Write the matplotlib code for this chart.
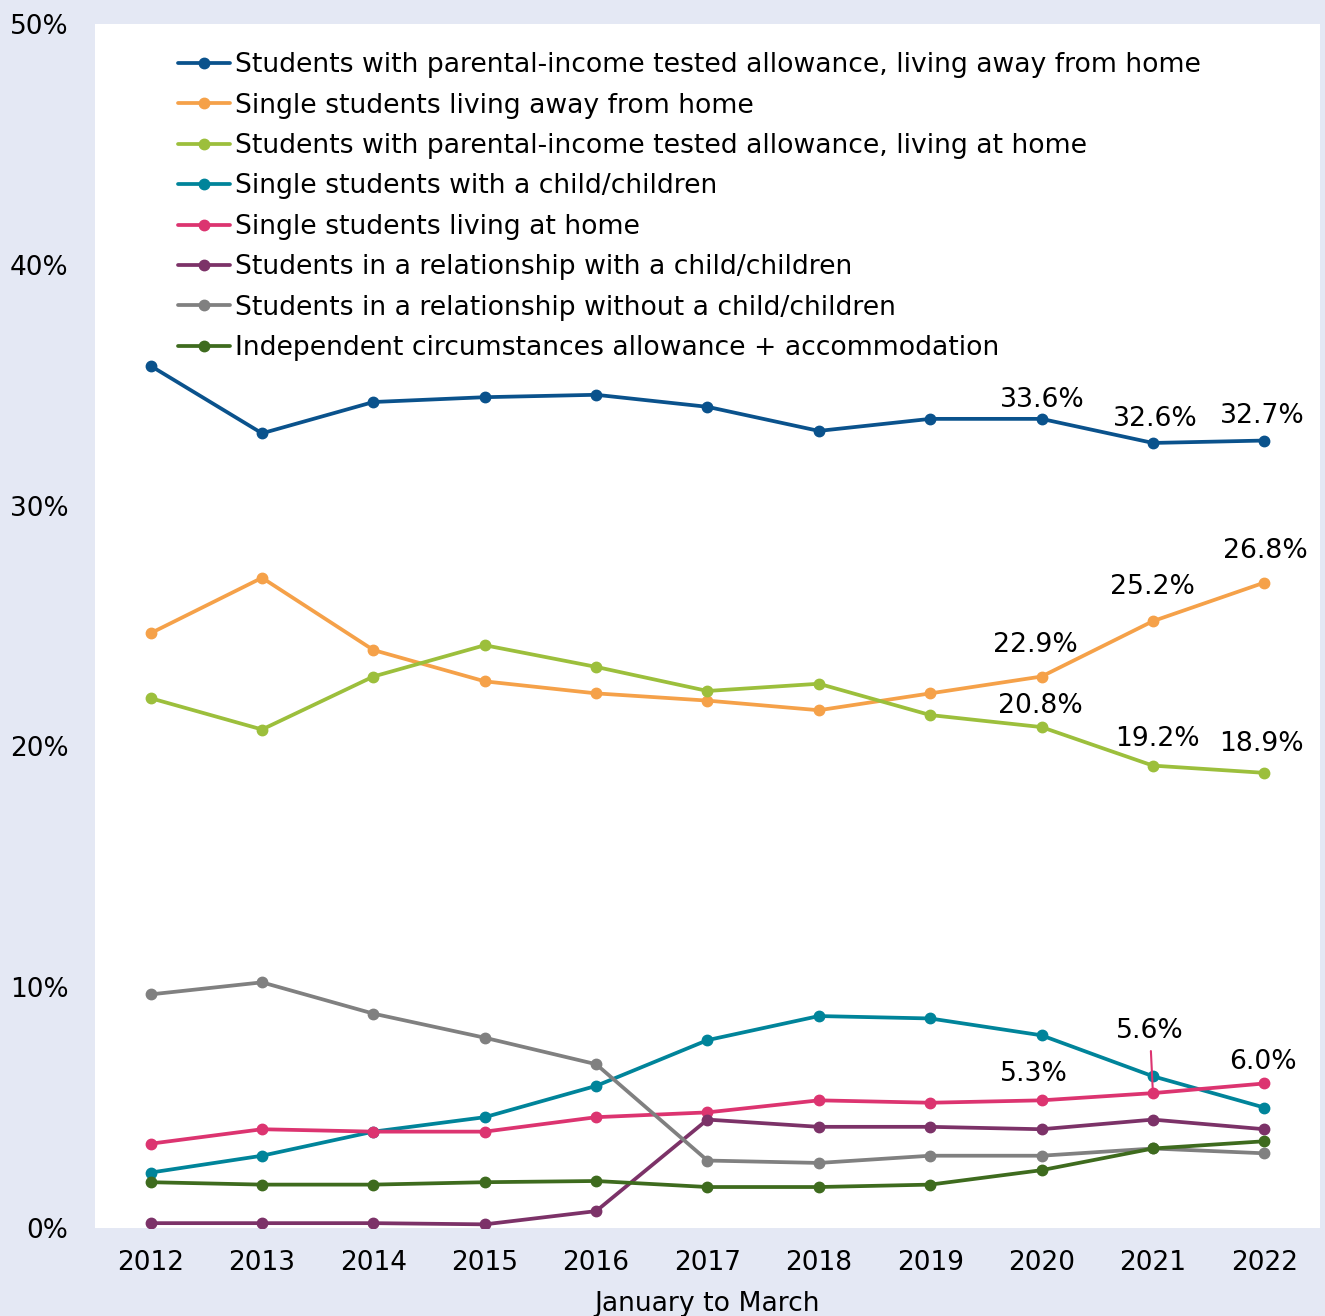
import matplotlib.pyplot as plt

years = [2012, 2013, 2014, 2015, 2016, 2017, 2018, 2019, 2020, 2021, 2022]

away_parental = [35.8, 33.0, 34.3, 34.5, 34.6, 34.1, 33.1, 33.6, 33.6, 32.6, 32.7]
single_away = [24.7, 27.0, 24.0, 22.7, 22.2, 21.9, 21.5, 22.2, 22.9, 25.2, 26.8]
home_parental = [22.0, 20.7, 22.9, 24.2, 23.3, 22.3, 22.6, 21.3, 20.8, 19.2, 18.9]
single_child = [2.3, 3.0, 4.0, 4.6, 5.9, 7.8, 8.8, 8.7, 8.0, 6.3, 5.0]
single_home = [3.5, 4.1, 4.0, 4.0, 4.6, 4.8, 5.3, 5.2, 5.3, 5.6, 6.0]
rel_child = [0.2, 0.2, 0.2, 0.15, 0.7, 4.5, 4.2, 4.2, 4.1, 4.5, 4.1]
rel_no_child = [9.7, 10.2, 8.9, 7.9, 6.8, 2.8, 2.7, 3.0, 3.0, 3.3, 3.1]
independent = [1.9, 1.8, 1.8, 1.9, 1.95, 1.7, 1.7, 1.8, 2.4, 3.3, 3.6]

labels = [
    "Students with parental-income tested allowance, living away from home",
    "Single students living away from home",
    "Students with parental-income tested allowance, living at home",
    "Single students with a child/children",
    "Single students living at home",
    "Students in a relationship with a child/children",
    "Students in a relationship without a child/children",
    "Independent circumstances allowance + accommodation",
]
series = [away_parental, single_away, home_parental, single_child,
          single_home, rel_child, rel_no_child, independent]
colors = ["#0A528C", "#F5A149", "#9CBF3C", "#00849A",
          "#DC3470", "#7C3268", "#808080", "#3E6B1E"]

# which points get a value label, and the pixel offset of the label
annotated = {
    0: [(2020, 1, 19), (2021, 2, 24), (2022, -2, 25)],
    1: [(2020, -6, 32), (2021, 0, 34), (2022, 1, 32)],
    2: [(2020, -1, 21), (2021, 5, 27), (2022, -3, 29)],
    4: [(2020, -8, 26), (2021, -3, 62), (2022, -1, 21)],
}

fs = 19.2
bg = "#E4E8F4"
fig = plt.figure(figsize=(13.25, 13.16), dpi=100, facecolor=bg)
ax = fig.add_axes([0.0717, 0.0669, 0.9245, 0.9149])
ax.set_facecolor("white")

for vals, lab, col in zip(series, labels, colors):
    ax.plot(years, vals, color=col, lw=2.7, marker="o", ms=7.5, label=lab,
            solid_capstyle="round")

for idx, pts in annotated.items():
    vals = series[idx]
    for yr, dx, dy in pts:
        v = vals[years.index(yr)]
        if dy > 50:
            # label set higher, with a leader line down to the point
            ax.annotate(f"{v:.1f}%", xy=(yr, v), xytext=(dx, dy),
                        textcoords="offset pixels", ha="center", va="center",
                        fontsize=fs,
                        arrowprops=dict(arrowstyle="-", color=colors[idx],
                                        lw=1.5, shrinkA=3, shrinkB=2))
        else:
            ax.annotate(f"{v:.1f}%", xy=(yr, v), xytext=(dx, dy),
                        textcoords="offset pixels", ha="center", va="center",
                        fontsize=fs)

ax.set_xlim(2011.5, 2022.5)
ax.set_ylim(0, 50)
ax.set_xticks(years)
ax.set_yticks([0, 10, 20, 30, 40, 50])
ax.set_yticklabels([f"{t}%" for t in [0, 10, 20, 30, 40, 50]])
ax.tick_params(axis="both", length=0, labelsize=19)
ax.tick_params(axis="y", pad=19)
ax.tick_params(axis="x", pad=16)
for s in ax.spines.values():
    s.set_visible(False)
ax.set_xlabel("January to March", fontsize=fs, labelpad=11)

ax.legend(loc="upper left", bbox_to_anchor=(0.0525, 0.992), frameon=False,
          fontsize=fs, handlelength=1.95, handletextpad=0.19,
          labelspacing=0.54, borderaxespad=0.3)

fig.savefig("out.png", dpi=100, facecolor=bg)
